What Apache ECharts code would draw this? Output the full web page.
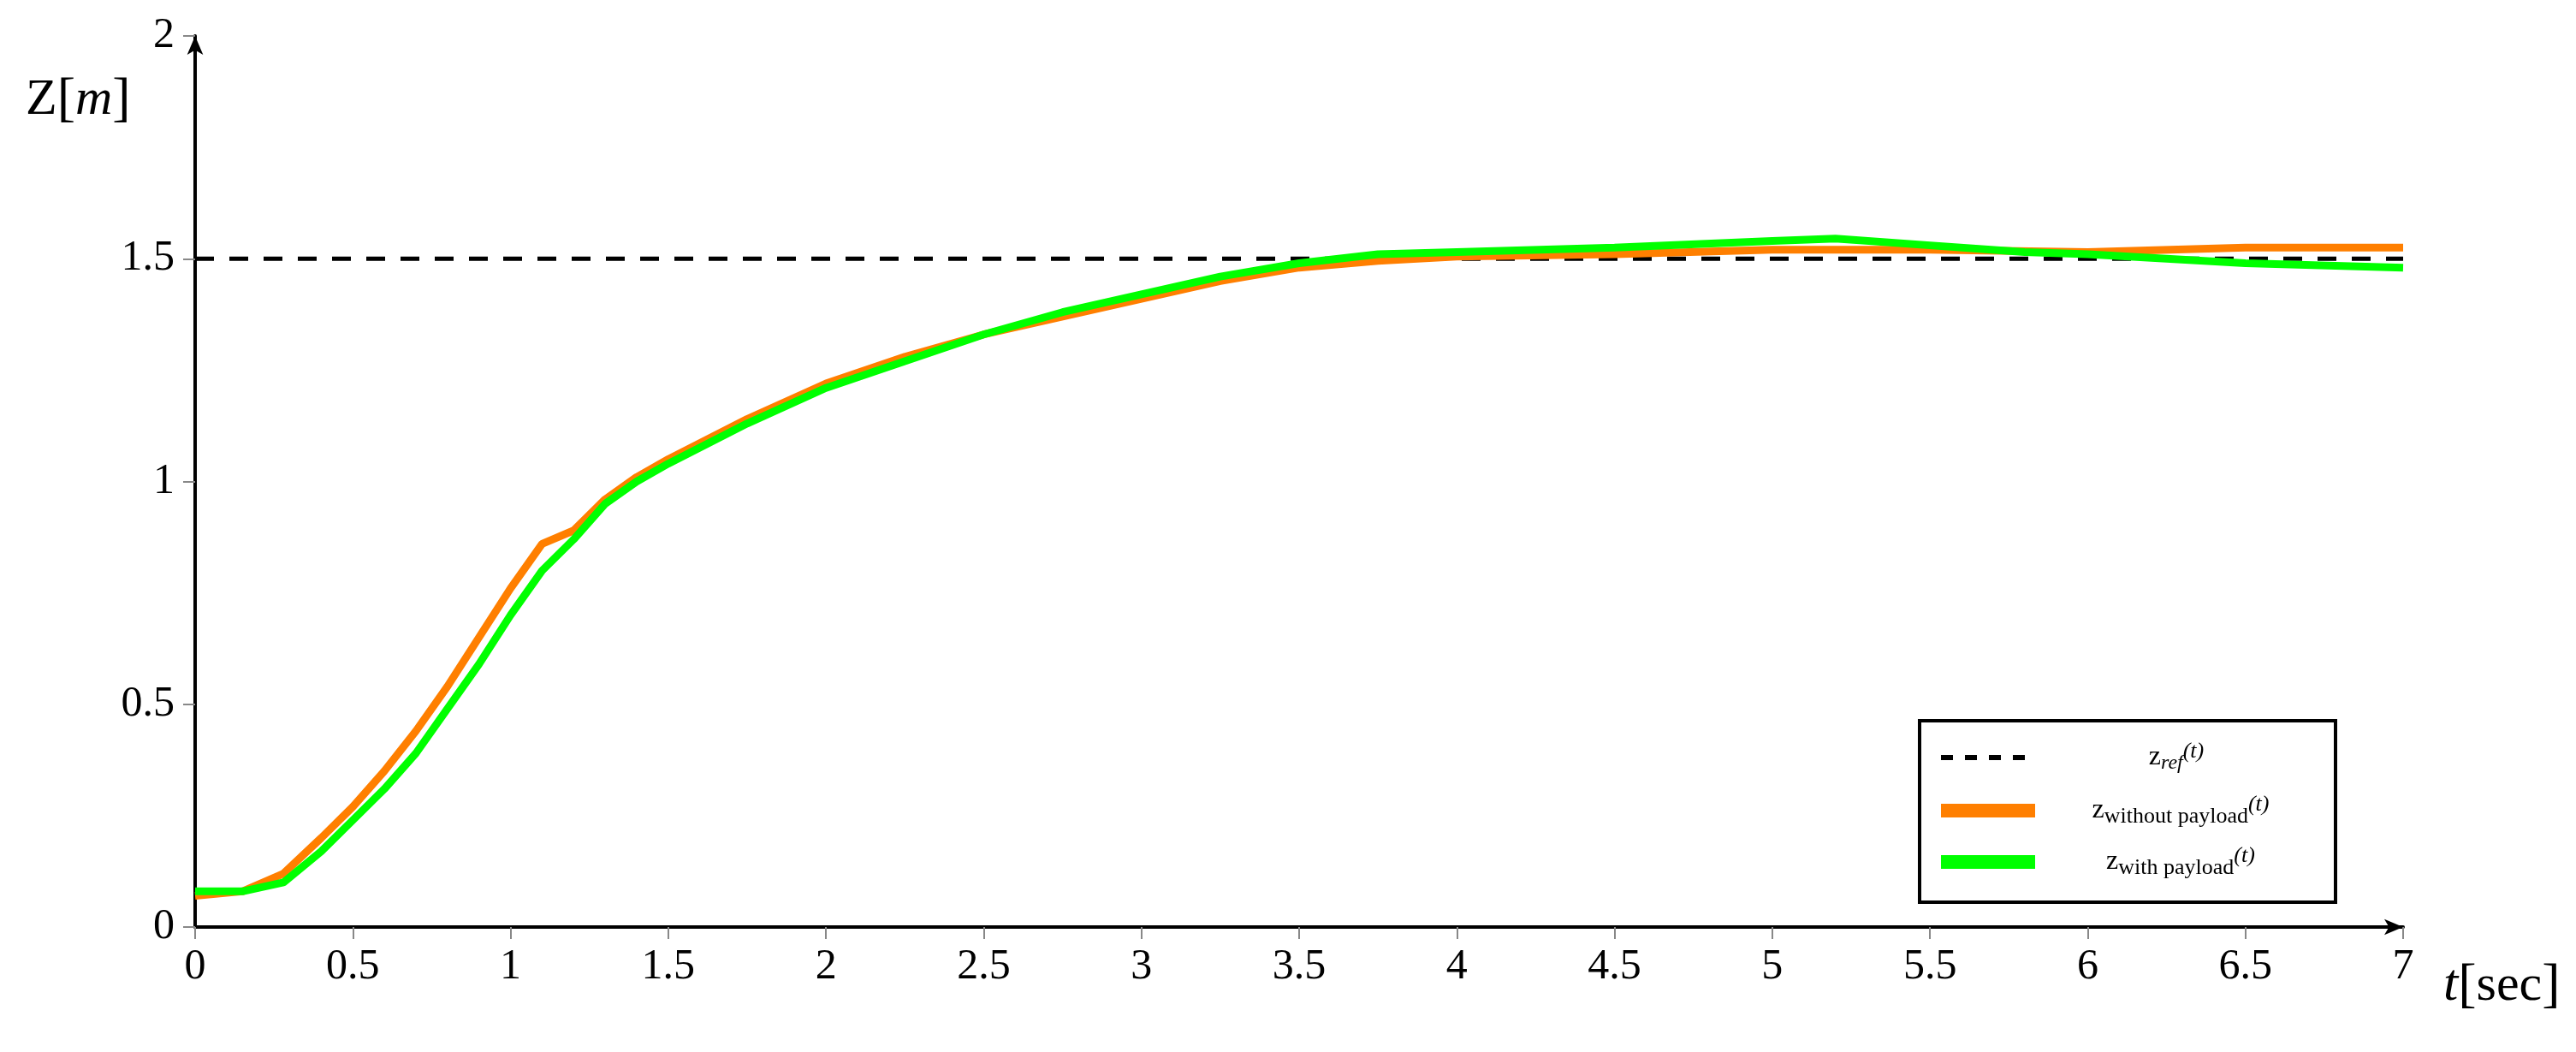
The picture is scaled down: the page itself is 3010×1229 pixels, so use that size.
<!DOCTYPE html>
<html><head><meta charset="utf-8">
<script src="https://cdn.jsdelivr.net/npm/echarts@6/dist/echarts.min.js"></script>
<style>html,body{margin:0;padding:0;background:#fff}#c{width:3010px;height:1229px}</style>
</head><body><div id="c"></div>
<script>
const tOrange = [0,0.15,0.28,0.4,0.5,0.6,0.7,0.8,0.9,1.0,1.1,1.2,1.3,1.4,1.5,1.75,2,2.25,2.5,2.75,3,3.25,3.5,3.75,4,4.5,5,5.5,6,6.5,7];
const zOrange = [0.07,0.08,0.12,0.2,0.27,0.35,0.44,0.54,0.65,0.76,0.86,0.89,0.96,1.01,1.05,1.14,1.22,1.28,1.33,1.37,1.41,1.45,1.48,1.495,1.505,1.51,1.52,1.52,1.515,1.525,1.525];
const tGreen = [0,0.15,0.28,0.4,0.5,0.6,0.7,0.8,0.9,1.0,1.1,1.2,1.3,1.4,1.5,1.75,2,2.25,2.5,2.75,3,3.25,3.5,3.75,4,4.5,5,5.2,5.5,5.8,6,6.5,7];
const zGreen = [0.08,0.08,0.1,0.17,0.24,0.31,0.39,0.49,0.59,0.7,0.8,0.87,0.95,1.0,1.04,1.13,1.21,1.27,1.33,1.38,1.42,1.46,1.49,1.51,1.515,1.525,1.54,1.545,1.53,1.515,1.51,1.49,1.48];
const tRef = [0,7];
const zRef = [1.5,1.5];
const xTicks = ['0','0.5','1','1.5','2','2.5','3','3.5','4','4.5','5','5.5','6','6.5','7'];
const yTicks = ['0','0.5','1','1.5','2'];

const F = 'Liberation Serif';
const zip = (a,b)=>a.map((v,i)=>[v,b[i]]);
const chart = echarts.init(document.getElementById('c'));
const L = 2243, T = 842;
chart.setOption({
  animation:false,
  textStyle:{fontFamily:F},
  grid:{left:228,right:202,top:42,bottom:146},
  xAxis:{type:'value',min:0,max:7,interval:0.5,
    axisLine:{lineStyle:{color:'#000',width:4},symbol:['none','arrow'],symbolSize:[14,22]},
    axisTick:{length:14,lineStyle:{color:'#888',width:2}},
    axisLabel:{fontSize:50,color:'#000',margin:22,fontFamily:F,formatter:v=>xTicks[Math.round(v*2)]},
    splitLine:{show:false}},
  yAxis:{type:'value',min:0,max:2,interval:0.5,
    axisLine:{show:true,lineStyle:{color:'#000',width:4},symbol:['none','arrow'],symbolSize:[14,22]},
    axisTick:{show:true,length:14,lineStyle:{color:'#888',width:2}},
    axisLabel:{fontSize:50,color:'#000',margin:24,fontFamily:F,formatter:v=>yTicks[Math.round(v*2)]},
    splitLine:{show:false}},
  series:[
    {type:'line',data:zip(tRef,zRef),symbol:'none',lineStyle:{color:'#000',width:5,type:[22,18]},z:3},
    {type:'line',data:zip(tOrange,zOrange),symbol:'none',lineStyle:{color:'#ff7f00',width:9},z:4},
    {type:'line',data:zip(tGreen,zGreen),symbol:'none',lineStyle:{color:'#00ff00',width:9},z:5}
  ],
  graphic:[
    {type:'text',left:30,top:85,style:{text:'{a|Z}{b|[}{c|m}{b|]}',rich:{a:{fontSize:60,fontFamily:F},b:{fontSize:64,fontFamily:F},c:{fontSize:60,fontStyle:'italic',fontFamily:F}}}},
    {type:'text',left:2855,top:1120,style:{text:'{c|t}{b|[}{a|sec}{b|]}',rich:{a:{fontSize:60,fontFamily:F},b:{fontSize:64,fontFamily:F},c:{fontSize:62,fontStyle:'italic',fontFamily:F}}}},
    {type:'rect',shape:{x:L,y:T,width:486,height:212},style:{fill:'#fff',stroke:'#000',lineWidth:4},z:10},
    {type:'line',shape:{x1:L+25,y1:T+43,x2:L+125,y2:T+43},style:{stroke:'#000',lineWidth:6,lineDash:[14,14]},z:11},
    {type:'line',shape:{x1:L+25,y1:T+105,x2:L+135,y2:T+105},style:{stroke:'#ff7f00',lineWidth:16},z:11},
    {type:'line',shape:{x1:L+25,y1:T+165,x2:L+135,y2:T+165},style:{stroke:'#00ff00',lineWidth:16},z:11},
    {type:'text',x:L+300,y:T+43,style:{text:'{z|z}{s|ref}{p|(t)}',align:'center',verticalAlign:'middle',rich:{z:{fontSize:32,fontFamily:F},s:{fontSize:24,fontStyle:'italic',fontFamily:F,padding:[14,0,0,0]},p:{fontSize:26,fontStyle:'italic',fontFamily:F,padding:[0,0,14,0]}}},z:11},
    {type:'text',x:L+305,y:T+105,style:{text:'{z|z}{s|without payload}{p|(t)}',align:'center',verticalAlign:'middle',rich:{z:{fontSize:32,fontFamily:F},s:{fontSize:26,fontFamily:F,padding:[14,0,0,0]},p:{fontSize:26,fontStyle:'italic',fontFamily:F,padding:[0,0,14,0]}}},z:11},
    {type:'text',x:L+305,y:T+165,style:{text:'{z|z}{s|with payload}{p|(t)}',align:'center',verticalAlign:'middle',rich:{z:{fontSize:32,fontFamily:F},s:{fontSize:26,fontFamily:F,padding:[14,0,0,0]},p:{fontSize:26,fontStyle:'italic',fontFamily:F,padding:[0,0,14,0]}}},z:11}
  ]
});
</script></body></html>
